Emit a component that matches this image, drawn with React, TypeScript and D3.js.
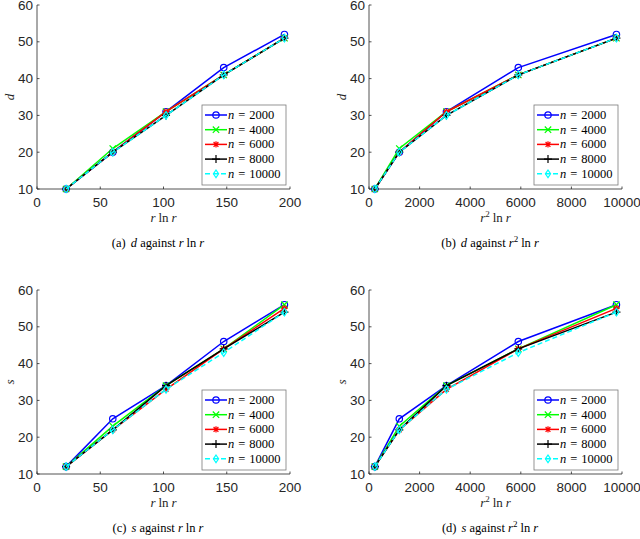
import React from "react";
import * as d3 from "d3";

// r = 10..50
const rLnR = [23.0, 59.9, 102.0, 147.6, 195.6];
const r2LnR = [230, 1198, 3061, 5902, 9780];

const seriesNames = ["2000", "4000", "6000", "8000", "10000"];
const seriesColors = ["#0000ff", "#00ff00", "#ff0000", "#000000", "#00ffff"];
const seriesMarkers = ["circle", "x", "star", "plus", "diamond"];

const dValues = [
  [10, 20, 31, 43, 52],
  [10, 21, 31, 41, 51],
  [10, 20, 31, 41, 51],
  [10, 20, 30, 41, 51],
  [10, 20, 30, 41, 51],
];

const sValues = [
  [12, 25, 34, 46, 56],
  [12, 23, 34, 44, 56],
  [12, 22, 33, 44, 55],
  [12, 22, 34, 44, 54],
  [12, 22, 33, 43, 54],
];

const yTicks = [10, 20, 30, 40, 50, 60];
const xTicksA = [0, 50, 100, 150, 200];
const xTicksB = [0, 2000, 4000, 6000, 8000, 10000];

const SANS = "'Liberation Sans', Arial, Helvetica, sans-serif";
const SERIF = "'Liberation Serif', 'DejaVu Serif', serif";
const AXIS = "#262626";

const Marker = ({ type, x, y, color }) => {
  const s = 3.2;
  const common = { stroke: color, strokeWidth: 1.2, fill: "none" };
  if (type === "circle") return <circle cx={x} cy={y} r={s} {...common} />;
  if (type === "x")
    return (
      <path d={`M${x - s},${y - s}L${x + s},${y + s}M${x - s},${y + s}L${x + s},${y - s}`} {...common} />
    );
  if (type === "plus")
    return <path d={`M${x - s - 0.8},${y}L${x + s + 0.8},${y}M${x},${y - s - 0.8}L${x},${y + s + 0.8}`} {...common} />;
  if (type === "star") {
    const k = s * 0.75;
    return (
      <path
        d={`M${x - s},${y}L${x + s},${y}M${x},${y - s}L${x},${y + s}M${x - k},${y - k}L${x + k},${y + k}M${x - k},${y + k}L${x + k},${y - k}`}
        {...common}
      />
    );
  }
  return <path d={`M${x},${y - s - 0.6}L${x + s - 0.6},${y}L${x},${y + s + 0.6}L${x - s + 0.6},${y}Z`} {...common} />;
};

const XLabel = ({ sq }) => (
  <>
    <tspan fontStyle="italic">r</tspan>
    {sq && (
      <tspan dy={-5} fontSize={9}>
        2
      </tspan>
    )}
    <tspan dy={sq ? 5 : 0} dx={3}>ln</tspan>
    <tspan fontStyle="italic" dx={3}>r</tspan>
  </>
);

const Panel = ({ left, top, xs, values, xMax, xTicks, yName, sq, letter, captionX }) => {
  const width = 253;
  const height = 184;
  const x = d3.scaleLinear().domain([0, xMax]).range([left, left + width]);
  const y = d3.scaleLinear().domain([10, 60]).range([top + height, top]);
  const line = d3
    .line<number>()
    .x((_, i) => x(xs[i]))
    .y((v) => y(v));

  const legRight = left + width - 4;
  const legLeft = legRight - 84;
  const legTop = top + 100;
  const legH = 80;
  const rowGap = 14.7;

  return (
    <g>
      {/* axes */}
      <line x1={left} x2={left + width} y1={top + height} y2={top + height} stroke={AXIS} strokeWidth={0.8} />
      <line x1={left} x2={left} y1={top} y2={top + height} stroke={AXIS} strokeWidth={0.8} />
      {xTicks.map((t) => (
        <g key={"x" + t}>
          <line x1={x(t)} x2={x(t)} y1={top + height} y2={top + height - 2.5} stroke={AXIS} strokeWidth={0.8} />
          <text x={x(t)} y={top + height + 18} textAnchor="middle" fontFamily={SANS} fontSize={13.5} fill={AXIS}>
            {t}
          </text>
        </g>
      ))}
      {yTicks.map((t) => (
        <g key={"y" + t}>
          <line x1={left} x2={left + 2.5} y1={y(t)} y2={y(t)} stroke={AXIS} strokeWidth={0.8} />
          <text x={left - 4} y={y(t) + 4.5} textAnchor="end" fontFamily={SANS} fontSize={13.5} fill={AXIS}>
            {t}
          </text>
        </g>
      ))}
      <text
        transform={`translate(${left - 23},${top + height / 2}) rotate(-90)`}
        textAnchor="middle"
        fontFamily={SERIF}
        fontStyle="italic"
        fontSize={13}
        fill={AXIS}
      >
        {yName}
      </text>
      <text x={left + width / 2} y={top + height + 33} textAnchor="middle" fontFamily={SERIF} fontSize={13} fill={AXIS}>
        <XLabel sq={sq} />
      </text>

      {/* series */}
      {values.map((vals, si) => (
        <g key={si}>
          <path
            d={line(vals)}
            fill="none"
            stroke={seriesColors[si]}
            strokeWidth={1.5}
            strokeDasharray={si === 4 ? "5,3" : undefined}
          />
          {vals.map((v, i) => (
            <Marker key={i} type={seriesMarkers[si]} x={x(xs[i])} y={y(v)} color={seriesColors[si]} />
          ))}
        </g>
      ))}

      {/* legend */}
      <rect x={legLeft} y={legTop} width={84} height={legH} fill="#fff" stroke="#7a7a7a" strokeWidth={0.8} />
      {seriesNames.map((n, i) => {
        const cy = legTop + 10 + i * rowGap;
        return (
          <g key={n}>
            <line
              x1={legLeft + 3}
              x2={legLeft + 25}
              y1={cy}
              y2={cy}
              stroke={seriesColors[i]}
              strokeWidth={1.5}
              strokeDasharray={i === 4 ? "5,3" : undefined}
            />
            <Marker type={seriesMarkers[i]} x={legLeft + 14} y={cy} color={seriesColors[i]} />
            <text x={legLeft + 26} y={cy + 4} fontFamily={SERIF} fontSize={12.5} fill="#000">
              <tspan fontStyle="italic">n</tspan>
              <tspan dx={4}>=</tspan>
              <tspan dx={4}>{n}</tspan>
            </text>
          </g>
        );
      })}

      {/* caption */}
      <text x={captionX} y={top + height + 58} textAnchor="middle" fontFamily={SERIF} fontSize={12.5} fill="#000">
        ({letter})<tspan dx={5} fontStyle="italic">{yName}</tspan> against <XLabel sq={sq} />
      </text>
    </g>
  );
};

export default function App() {
  return (
    <svg width={640} height={539} style={{ position: "absolute", left: 0, top: 0, background: "#fff" }}>
      <Panel left={37} top={5} xs={rLnR} values={dValues} xMax={200} xTicks={xTicksA} yName="d" letter="a" captionX={158} />
      <Panel left={369} top={5} xs={r2LnR} values={dValues} xMax={10000} xTicks={xTicksB} yName="d" sq letter="b" captionX={490} />
      <Panel left={37} top={290} xs={rLnR} values={sValues} xMax={200} xTicks={xTicksA} yName="s" letter="c" captionX={158} />
      <Panel left={369} top={290} xs={r2LnR} values={sValues} xMax={10000} xTicks={xTicksB} yName="s" sq letter="d" captionX={490} />
    </svg>
  );
}
